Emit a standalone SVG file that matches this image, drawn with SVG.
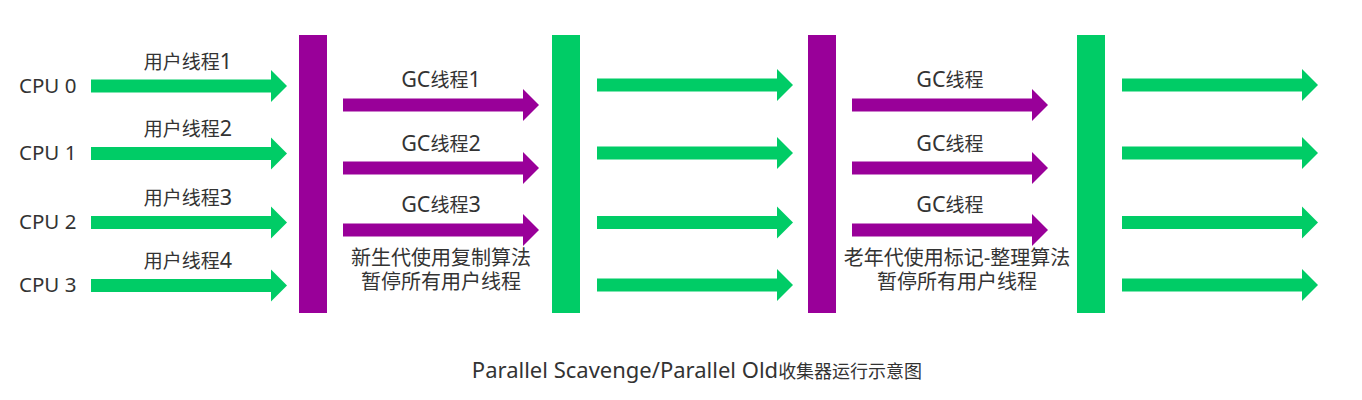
<svg xmlns="http://www.w3.org/2000/svg" xmlns:xlink="http://www.w3.org/1999/xlink" width="1362" height="400" viewBox="0 0 1362 400">
<style>
  text { font-family: "Noto Sans", "Noto Sans CJK SC", sans-serif; fill: #333333; }
  .lbl { font-size: 19px; text-anchor: middle; }
  .lat { font-size: 21.5px; }
  .cpu { font-size: 20.5px; }
  .note { font-family: "Liberation Sans", "Noto Sans CJK SC", sans-serif; font-size: 20px; text-anchor: middle; }
  .title { font-size: 18px; text-anchor: middle; }
  .tlat { font-size: 22px; }
  .green { fill: #00CC66; }
  .purple { fill: #990099; }
</style>
<defs>
  <path id="arrow" d="M0,-6.5 H180 V-16 L196,0 L180,16 V6.5 H0 Z"/>
</defs>
<rect width="1362" height="400" fill="#ffffff"/>

<g id="cpu-labels">
  <text class="cpu" x="19" y="93">CPU 0</text>
  <text class="cpu" x="19" y="160">CPU 1</text>
  <text class="cpu" x="19" y="229">CPU 2</text>
  <text class="cpu" x="19" y="292">CPU 3</text>
</g>

<g id="user-thread-labels">
  <text class="lbl" x="188" y="69">用户线程<tspan class="lat">1</tspan></text>
  <text class="lbl" x="188" y="136">用户线程<tspan class="lat">2</tspan></text>
  <text class="lbl" x="188" y="205">用户线程<tspan class="lat">3</tspan></text>
  <text class="lbl" x="188" y="268">用户线程<tspan class="lat">4</tspan></text>
</g>

<g id="safepoint-1"><rect class="purple" x="299" y="35" width="28" height="278"/></g>
<g id="resume-1"><rect class="green" x="552" y="35" width="28" height="278"/></g>
<g id="safepoint-2"><rect class="purple" x="808" y="35" width="28" height="278"/></g>
<g id="resume-2"><rect class="green" x="1077" y="35" width="28" height="278"/></g>

<g id="young-gc-labels">
  <text class="lbl" x="441" y="87"><tspan class="lat">GC</tspan>线程<tspan class="lat">1</tspan></text>
  <text class="lbl" x="441" y="151"><tspan class="lat">GC</tspan>线程<tspan class="lat">2</tspan></text>
  <text class="lbl" x="441" y="212"><tspan class="lat">GC</tspan>线程<tspan class="lat">3</tspan></text>
  <text class="note" x="441" y="265">新生代使用复制算法</text>
  <text class="note" x="441" y="289">暂停所有用户线程</text>
</g>

<g id="old-gc-labels">
  <text class="lbl" x="950" y="87"><tspan class="lat">GC</tspan>线程</text>
  <text class="lbl" x="950" y="151"><tspan class="lat">GC</tspan>线程</text>
  <text class="lbl" x="950" y="212"><tspan class="lat">GC</tspan>线程</text>
  <text class="note" x="957" y="265">老年代使用标记-整理算法</text>
  <text class="note" x="957" y="289">暂停所有用户线程</text>
</g>

<g id="connectors">
  <use xlink:href="#arrow" class="green" x="91" y="86"/>
  <use xlink:href="#arrow" class="green" x="91" y="153.5"/>
  <use xlink:href="#arrow" class="green" x="91" y="222.5"/>
  <use xlink:href="#arrow" class="green" x="91" y="285.5"/>

  <use xlink:href="#arrow" class="purple" x="343" y="105"/>
  <use xlink:href="#arrow" class="purple" x="343" y="168"/>
  <use xlink:href="#arrow" class="purple" x="343" y="230"/>

  <use xlink:href="#arrow" class="green" x="597" y="85"/>
  <use xlink:href="#arrow" class="green" x="597" y="153"/>
  <use xlink:href="#arrow" class="green" x="597" y="222.5"/>
  <use xlink:href="#arrow" class="green" x="597" y="285"/>

  <use xlink:href="#arrow" class="purple" x="852" y="105"/>
  <use xlink:href="#arrow" class="purple" x="852" y="168"/>
  <use xlink:href="#arrow" class="purple" x="852" y="230"/>

  <use xlink:href="#arrow" class="green" x="1122" y="85"/>
  <use xlink:href="#arrow" class="green" x="1122" y="153"/>
  <use xlink:href="#arrow" class="green" x="1122" y="222.5"/>
  <use xlink:href="#arrow" class="green" x="1122" y="285"/>
</g>

<g id="caption">
  <text class="title" x="697" y="378"><tspan class="tlat">Parallel Scavenge/Parallel Old</tspan>收集器运行示意图</text>
</g>
</svg>
